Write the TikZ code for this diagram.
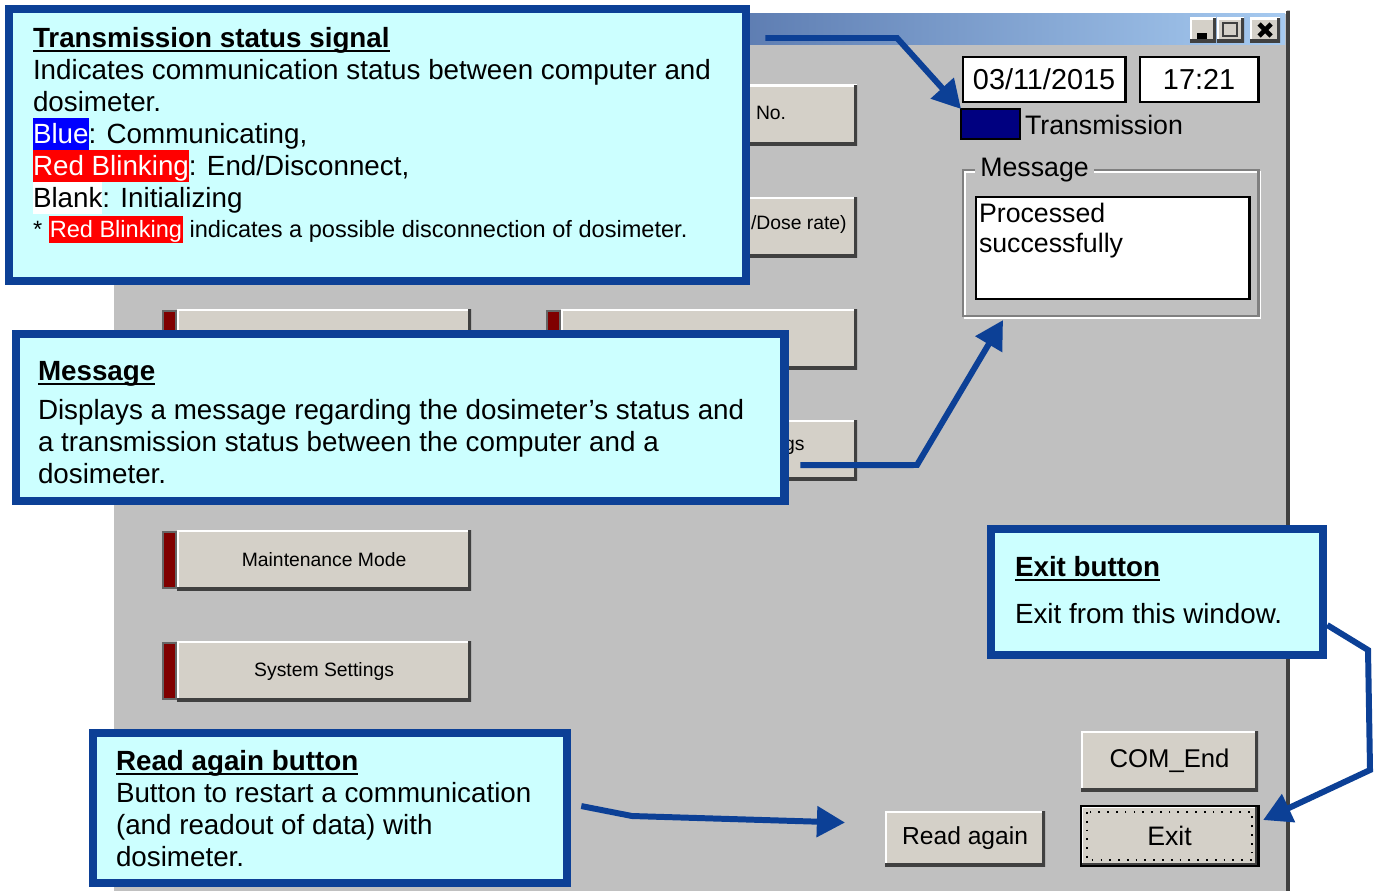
\documentclass[tikz,border=0pt]{standalone}
\usepackage{fontspec}
\setmainfont{Liberation Sans}
\usetikzlibrary{arrows.meta,calc}

\definecolor{wingray}{RGB}{192,192,192}
\definecolor{btnface}{RGB}{212,208,200}
\definecolor{btndark}{RGB}{64,64,64}
\definecolor{lampred}{RGB}{128,0,0}
\definecolor{titleA}{RGB}{10,36,106}
\definecolor{titleB}{RGB}{166,202,240}
\definecolor{calloutfill}{RGB}{204,255,255}
\definecolor{calloutblue}{RGB}{12,64,150}
\definecolor{txnavy}{RGB}{0,0,128}

\newlength{\hdw}
\newcommand{\headline}[1]{\settowidth{\hdw}{\textbf{#1}}\textbf{#1}\llap{\rule[-1.4pt]{\hdw}{0.7pt}}}
\newcommand{\hilite}[3]{{\setlength{\fboxsep}{0pt}\colorbox{#1}{\rule[-2pt]{0pt}{9.1pt}\textcolor{#2}{#3}}}}
\newcommand{\hilitesm}[3]{{\setlength{\fboxsep}{0pt}\colorbox{#1}{\rule[-1.7pt]{0pt}{7.7pt}\kern0.3pt\textcolor{#2}{#3}\kern0.3pt}}}

\begin{document}
\begin{tikzpicture}[x=0.01cm,y=-0.01cm, every node/.append style={outer sep=0pt},
	callout/.style={draw=calloutblue, fill=calloutfill, line width=2.3pt, anchor=north west, inner sep=0pt},
	calltext/.style={anchor=north west, inner sep=0pt, align=left, font=\fontsize{7.9pt}{9.1pt}\selectfont},
	callarrow/.style={draw=calloutblue, line width=1.7pt, -{Triangle[length=8pt,width=8.5pt]}},
	guibtn/.style={fill=btnface, anchor=north west, inner sep=0pt, minimum height=0.6cm,
		path picture={
			\draw[white, line width=1.4pt] (path picture bounding box.south west) -- (path picture bounding box.north west) -- (path picture bounding box.north east);
			\draw[btndark, line width=1.6pt] (path picture bounding box.north east) -- (path picture bounding box.south east) -- (path picture bounding box.south west);}},
	lamp/.style={fill=lampred, draw=btndark!80, line width=0.6pt, minimum width=0.13cm, minimum height=0.56cm, anchor=north west, inner sep=0pt},
	editbox/.style={fill=white, draw=black, line width=0.8pt, anchor=north west, inner sep=0pt},
	guitext/.style={inner sep=0pt, font=\fontsize{7.6pt}{8.5pt}\selectfont},
	btntext/.style={inner sep=0pt, font=\fontsize{5.5pt}{6pt}\selectfont}]
				\useasboundingbox (0,0) rectangle (1380,891);
				\fill[white] (0,0) rectangle (1380,891);
				
				% window
				\fill[wingray] (110,10) rectangle (1290,891);
				\draw[white, line width=1.2pt] (112,891) -- (112,12) -- (1287,12);
				\draw[btndark, line width=1.2pt] (1288,11) -- (1288,891);
				\shade[left color=titleA, right color=titleB] (114,14) rectangle (1285,45);
				
				\node[guibtn, minimum width=0.26cm, minimum height=0.24cm] (tbmin) at (1190,18) {};
				\node[guibtn, minimum width=0.27cm, minimum height=0.24cm] (tbmax) at (1217,18) {};
				\node[guibtn, minimum width=0.30cm, minimum height=0.24cm] (tbcls) at (1250,18) {};
				\draw[black, line width=1.6pt] ([shift={(7,-6)}]tbmin.south west) -- ([shift={(-9,-6)}]tbmin.south east);
				\draw[btndark, line width=0.6pt] ([shift={(6,5)}]tbmax.north west) rectangle ([shift={(-7,-6)}]tbmax.south east);
				\draw[black, line width=1.3pt] ([shift={(9,6)}]tbcls.north west) -- ([shift={(-9,-6)}]tbcls.south east)
				([shift={(-9,6)}]tbcls.north east) -- ([shift={(9,-6)}]tbcls.south west);
				
				% menu buttons
				\foreach \y [count=\i] in {85,197,309,420,530,641}{
					\node[lamp] (lampL\i) at (163,\y+2) {};
					\node[guibtn, minimum width=2.94cm] (btnL\i) at (177,\y) {};}
				\foreach \y [count=\i] in {85,197,309,420}{
					\node[lamp] (lampR\i) at (547,\y+2) {};
					\node[guibtn, minimum width=2.96cm] (btnR\i) at (561,\y) {};}
				\node[btntext] (lblL5) at (btnL5.center) {Maintenance Mode};
				\node[btntext] (lblL6) at (btnL6.center) {System Settings};
				\node[btntext, anchor=west] (lblR1) at (756,113) {No.};
				\node[btntext, anchor=west] (lblR2) at (751,224) {/Dose rate)};
				\node[btntext, anchor=west] (lblR4) at (784,447) {gs};
				
				% status area
				\node[editbox, minimum width=1.62cm, minimum height=0.45cm, font=\fontsize{8.2pt}{9pt}\selectfont] (datebox) at (963,57) {03/11/2015};
				\node[editbox, minimum width=1.18cm, minimum height=0.45cm, font=\fontsize{8.2pt}{9pt}\selectfont] (timebox) at (1140,57) {17:21};
				\node[fill=txnavy, draw=black, line width=0.8pt, minimum width=0.59cm, minimum height=0.30cm, anchor=north west, inner sep=0pt] (txlamp) at (961,109) {};
				\node[guitext, anchor=west] (txlabel) at (1025,125) {Transmission};
				
				\draw[white, line width=0.8pt] (965,172) rectangle (1260,318);
				\node[draw=gray, line width=0.8pt, minimum width=2.95cm, minimum height=1.46cm, anchor=north west, inner sep=0pt] (msggroup) at (963,170) {};
				\node[guitext, fill=wingray, inner xsep=1.5pt, anchor=west] (msglabel) at (975,170) {Message};
				\node[editbox, minimum width=2.73cm, minimum height=1.02cm] (msgbox) at (976,197) {};
				\node[guitext, anchor=north west, align=left] (msgtext) at (979,203) {Processed\\successfully};
				
				% bottom buttons
				\node[guibtn, minimum width=1.77cm, font=\fontsize{7.3pt}{8pt}\selectfont] (comend) at (1081,731) {COM\_End};
				\node[guibtn, minimum width=1.77cm, font=\fontsize{7.6pt}{8pt}\selectfont] (exitbtn) at (1081,806) {Exit};
				\draw[black, line width=0.8pt] (exitbtn.north west) rectangle (exitbtn.south east);
				\draw[dotted, line width=0.5pt] ([shift={(6,6)}]exitbtn.north west) rectangle ([shift={(-6,-6)}]exitbtn.south east);
				\node[guibtn, minimum width=1.60cm, minimum height=0.55cm, font=\fontsize{7pt}{8pt}\selectfont] (readbtn) at (885,811) {Read again};
				
				% callouts
				\node[callout, minimum width=7.37cm, minimum height=2.72cm] (tss) at (9,9) {};
				\node[calltext] (tsstext) at (33,27) {\headline{Transmission status signal}\\
					Indicates communication status between computer and\\
					dosimeter.\\
					\hilite{blue}{white}{Blue}: Communicating,\\
					\hilite{red}{white}{Red Blinking}: End/Disconnect,\\
					\hilite{white}{black}{Blank}: Initializing\\[-0.6pt]
					{\fontsize{6.7pt}{8.6pt}\selectfont * \hilitesm{red}{white}{Red Blinking} indicates a possible disconnection of dosimeter.}};
				
				\node[callout, minimum width=7.68cm, minimum height=1.67cm] (msgcall) at (16,334) {};
				\node[calltext] (msgcalltext) at (38,361) {\headline{Message}\\[2pt]
					Displays a message regarding the dosimeter’s status and\\
					a transmission status between the computer and a\\
					dosimeter.};
				
				\node[callout, minimum width=3.32cm, minimum height=1.26cm] (exitcall) at (991,529) {};
				\node[calltext] (exitcalltext) at (1015,556) {\headline{Exit button}\\[4.3pt]
					Exit from this window.};
				
				\node[callout, minimum width=4.74cm, minimum height=1.50cm] (readcall) at (93,733) {};
				\node[calltext] (readcalltext) at (116,750) {\headline{Read again button}\\
					Button to restart a communication\\
					(and readout of data) with\\
					dosimeter.};
				
				% arrows
				\draw[callarrow] ([shift={(19,29)}]tss.north east) -- (897,38) -- (txlamp.north west);
				\draw[callarrow] ([shift={(16,-36)}]msgcall.south east) -- (917,465) -- ([shift={(40,4)}]msggroup.south west);
				\draw[callarrow] ([shift={(4,33)}]exitcall.east) -- (1368,650) -- (1370,770) -- ([shift={(5,-16)}]exitbtn.east);
				\draw[callarrow] ([shift={(14,-2)}]readcall.east) -- (632,816) -- ([shift={(-40,-16)}]readbtn.west);
			\end{tikzpicture}
\end{document}
